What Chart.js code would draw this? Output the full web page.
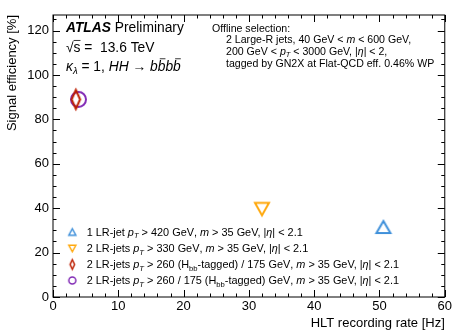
<!DOCTYPE html>
<html>
<head>
<meta charset="utf-8">
<script src="https://cdn.jsdelivr.net/npm/chart.js@4/dist/chart.umd.min.js"></script>
<style>
  html, body { margin: 0; padding: 0; background: #fff; }
  canvas { display: block; }
</style>
</head>
<body>
<canvas id="chart" width="454" height="331"></canvas>
<script>
// trigger menu: recording rate vs signal efficiency
const triggerNames = [
  '1 LR-jet pT > 420 GeV, m > 35 GeV, |eta| < 2.1',
  '2 LR-jets pT > 330 GeV, m > 35 GeV, |eta| < 2.1',
  '2 LR-jets pT > 260 (Hbb-tagged) / 175 GeV, m > 35 GeV, |eta| < 2.1',
  '2 LR-jets pT > 260 / 175 (Hbb-tagged) GeV, m > 35 GeV, |eta| < 2.1'
];
const rateHz = [50.6, 32.0, 3.5, 3.9];
const efficiencyPct = [31.5, 39.6, 89.0, 89.0];
const colors = ['#3f90da', '#ffa90e', '#bd1f01', '#832db6'];
const markerKinds = ['up', 'down', 'diamond', 'circle'];

const xRange = [0, 60];
const yRange = [0, 127];
const xMajor = 10, xMinor = 2;
const yMajor = 20, yMinor = 5;

const FONT = '"Liberation Sans", Arial, Helvetica, sans-serif';

// outlined marker drawn on its own little canvas, used as pointStyle
function marker(kind, w, h, color, lw) {
  const pad = Math.ceil(lw * 2);
  const c = document.createElement('canvas');
  c.width = Math.round(w + 2 * pad);
  c.height = Math.round(h + 2 * pad);
  const g = c.getContext('2d');
  g.strokeStyle = color;
  g.lineWidth = lw;
  g.lineJoin = 'miter';
  const ox = (c.width - w) / 2, oy = (c.height - h) / 2;
  g.beginPath();
  if (kind === 'up') {
    g.moveTo(ox + w / 2, oy); g.lineTo(ox + w, oy + h); g.lineTo(ox, oy + h);
  } else if (kind === 'down') {
    g.moveTo(ox, oy); g.lineTo(ox + w, oy); g.lineTo(ox + w / 2, oy + h);
  } else if (kind === 'diamond') {
    g.moveTo(ox + w / 2, oy); g.lineTo(ox + w, oy + h / 2);
    g.lineTo(ox + w / 2, oy + h); g.lineTo(ox, oy + h / 2);
  } else {
    g.ellipse(ox + w / 2, oy + h / 2, w / 2, h / 2, 0, 0, Math.PI * 2);
  }
  g.closePath();
  g.stroke();
  return c;
}

const bigSizes = { up: [14, 12], down: [14, 12.5], diamond: [8.5, 19], circle: [15, 15] };
const smallSizes = { up: [7, 6.5], down: [7, 6.5], diamond: [4.5, 9.5], circle: [7, 7] };

// rich text: runs of {t, i, b, sub, bar}
function drawRich(ctx, x, y, runs, size) {
  ctx.textAlign = 'left';
  ctx.textBaseline = 'alphabetic';
  ctx.fillStyle = '#000';
  for (const r of runs) {
    const s = r.sub ? size * 0.7 : size;
    ctx.font = (r.i ? 'italic ' : '') + (r.b ? 'bold ' : '') + s + 'px ' + FONT;
    const dy = r.sub ? size * 0.22 : 0;
    ctx.fillText(r.t, x, y + dy);
    const w = ctx.measureText(r.t).width;
    if (r.bar) {
      ctx.strokeStyle = '#000';
      ctx.lineWidth = 0.8;
      ctx.beginPath();
      ctx.moveTo(x + (r.barFrom || 0), y - size * (r.barAt || 0.92));
      ctx.lineTo(x + w, y - size * (r.barAt || 0.92));
      ctx.stroke();
    }
    x += w;
  }
}

const T = (t) => ({ t });
const I = (t) => ({ t, i: true });
const pT = [I('p'), { t: 'T', i: true, sub: true }];
const tail = [T(', '), I('m'), T(' > 35 GeV, |'), I('η'), T('| < 2.1')];
const legendRuns = [
  [T('1 LR-jet '), ...pT, T(' > 420 GeV'), ...tail],
  [T('2 LR-jets '), ...pT, T(' > 330 GeV'), ...tail],
  [T('2 LR-jets '), ...pT, T(' > 260 (H'), { t: 'bb', sub: true }, T('-tagged) / 175 GeV'), ...tail],
  [T('2 LR-jets '), ...pT, T(' > 260 / 175 (H'), { t: 'bb', sub: true }, T('-tagged) GeV'), ...tail]
];

const selectionRuns = [
  [T('Offline selection:')],
  [T('2 Large-R jets, 40 GeV < '), I('m'), T(' < 600 GeV,')],
  [T('200 GeV < '), ...pT, T(' < 3000 GeV, |'), I('η'), T('| < 2,')],
  [T('tagged by GN2X at Flat-QCD eff. 0.46% WP')]
];

const atlasDecor = {
  id: 'atlasDecor',
  afterDatasetsDraw(chart) {
    const { ctx, chartArea: a, scales: { x, y } } = chart;
    ctx.save();
    ctx.strokeStyle = '#000';
    ctx.lineWidth = 1;
    ctx.strokeRect(a.left, a.top, a.right - a.left, a.bottom - a.top);
    ctx.beginPath();
    for (let v = xRange[0]; v <= xRange[1] + 1e-9; v += xMinor) {
      const px = Math.round(x.getPixelForValue(v)) + 0.5;
      const len = (Math.abs(v % xMajor) < 1e-9) ? 7 : 3.5;
      ctx.moveTo(px, a.bottom); ctx.lineTo(px, a.bottom - len);
      ctx.moveTo(px, a.top); ctx.lineTo(px, a.top + len);
    }
    for (let v = yRange[0]; v <= yRange[1] + 1e-9; v += yMinor) {
      const py = Math.round(y.getPixelForValue(v)) + 0.5;
      const len = (Math.abs(v % yMajor) < 1e-9) ? 7 : 3.5;
      ctx.moveTo(a.left, py); ctx.lineTo(a.left + len, py);
      ctx.moveTo(a.right, py); ctx.lineTo(a.right - len, py);
    }
    ctx.stroke();

    // ATLAS label block
    drawRich(ctx, 66, 31.5, [{ t: 'ATLAS', i: true, b: true }, T(' Preliminary')], 13.8);
    drawRich(ctx, 66, 51.5, [T('√'), { t: 's', bar: true, barAt: 0.8 }, T(' =  13.6 TeV')], 13.8);
    const bb = { t: 'b', i: true }, bbar = { t: 'b', i: true, bar: true, barFrom: 2, barAt: 0.85 };
    drawRich(ctx, 66, 70.5, [I('κ'), { t: 'λ', i: true, sub: true }, T(' = 1, '), I('HH'), T(' → '), bb, bbar, bb, bbar], 13.8);

    // offline selection block
    const selX = [212, 226, 226, 226];
    const selY = [31.5, 43.3, 55, 66.7];
    selectionRuns.forEach((r, i) => drawRich(ctx, selX[i], selY[i], r, 10.6));

    // legend
    const rowY = [232, 248.5, 264.5, 280.5];
    legendRuns.forEach((r, i) => {
      const s = smallSizes[markerKinds[i]];
      const m = marker(markerKinds[i], s[0], s[1], colors[i], 1.5);
      ctx.drawImage(m, 72.3 - m.width / 2, rowY[i] - m.height / 2);
      drawRich(ctx, 86.7, rowY[i] + 3.8, r, 10.9);
    });
    ctx.restore();
  }
};

const datasets = triggerNames.map((name, i) => {
  const s = bigSizes[markerKinds[i]];
  return {
    label: name,
    data: [{ x: rateHz[i], y: efficiencyPct[i] }],
    pointStyle: marker(markerKinds[i], s[0], s[1], colors[i], 2),
    pointRadius: 8,
    showLine: false
  };
});

const tickFont = { family: FONT, size: 13 };
const titleFont = { family: FONT, size: 13 };

new Chart(document.getElementById('chart'), {
  type: 'scatter',
  data: { datasets },
  options: {
    responsive: false,
    animation: false,
    devicePixelRatio: 1,
    layout: { padding: { top: 15, right: 8, left: 0, bottom: 0 } },
    plugins: { legend: { display: false }, tooltip: { enabled: false } },
    scales: {
      x: {
        type: 'linear', min: xRange[0], max: xRange[1],
        grid: { display: false, drawTicks: false },
        border: { display: false },
        ticks: { stepSize: xMajor, includeBounds: false, font: tickFont, color: '#000', padding: 2, maxRotation: 0 },
        title: { display: true, text: 'HLT recording rate [Hz]', align: 'end', color: '#000', font: titleFont, padding: { top: 0, bottom: 0 } },
        afterFit(s) { s.height = 34; }
      },
      y: {
        type: 'linear', min: yRange[0], max: yRange[1],
        grid: { display: false, drawTicks: false },
        border: { display: false },
        ticks: { stepSize: yMajor, includeBounds: false, font: tickFont, color: '#000', padding: 4 },
        title: { display: true, text: 'Signal efficiency [%]', align: 'end', color: '#000', font: titleFont, padding: { top: 5, bottom: 0 } },
        afterFit(s) { s.width = 53; }
      }
    }
  },
  plugins: [atlasDecor]
});
</script>
</body>
</html>
